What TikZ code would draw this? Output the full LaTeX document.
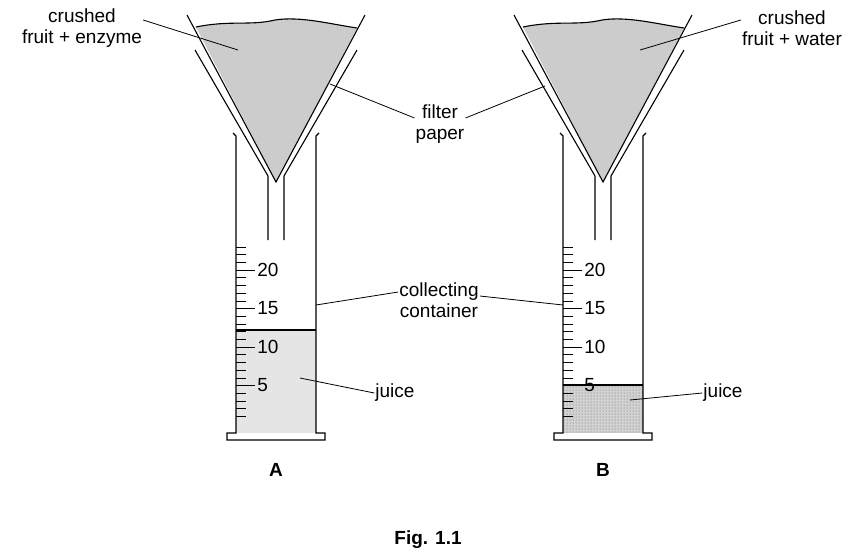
\documentclass[tikz,border=0pt]{standalone}
\usepackage{fontspec}
\setmainfont{Liberation Sans}
\usetikzlibrary{positioning, calc, patterns}

\tikzset{
  wall/.style={line width=1.1pt},
  lab/.style={font=\fontsize{19}{21}\selectfont, align=center, inner sep=1pt},
  lead/.style={line width=0.8pt},
  tick/.style={line width=0.6pt}
}

% funnel + cylinder, juice level as argument
\newcommand{\apparatus}[2]{%
  % fruit in filter paper
  \fill[gray!40] (196,27) .. controls (230,20) and (250,26) .. (275,20)
      .. controls (300,16) and (330,24) .. (357,28) -- (276,182) -- cycle;
  \draw[wall] (196,27) .. controls (230,20) and (250,26) .. (275,20)
      .. controls (300,16) and (330,24) .. (357,28);
  \draw[wall] (187,15) -- (276,182) -- (365,15);
  % funnel
  \draw[wall] (195,50) -- (268,176) -- (268,240);
  \draw[wall] (357,50) -- (284,176) -- (284,240);
  % juice
  #2
  % cylinder
  \draw[wall] (233,133) -- (236,136) -- (236,433) -- (227,433) -- (227,440)
      -- (325,440) -- (325,433) -- (316,433) -- (316,136) -- (319,133);
  \foreach \v in {1,...,23}{
    \draw[tick] (236,{424-7.7*\v}) -- ++(10,0);
  }
  \foreach \v in {5,10,15,20}{
    \draw[tick] (236,{424-7.7*\v}) -- ++(19,0)
      node[lab, right, inner sep=2pt] {\v};
  }
}

\begin{document}
\begin{tikzpicture}[x=1pt,y=-1pt]
  \useasboundingbox (0,0) rectangle (856,552);

  % A
  \begin{scope}
    \apparatus{A}{\fill[gray!20] (236,433) rectangle (316,330);
      \draw[wall] (236,330) -- (316,330);}
  \end{scope}
  % B
  \begin{scope}[xshift=327pt]
    \apparatus{B}{\fill[gray!35] (236,433) rectangle (316,385);
      \fill[pattern=dots, pattern color=gray!80!black] (236,433) rectangle (316,385);
      \draw[wall] (236,385) -- (316,385);}
  \end{scope}

  % labels
  \node[lab] (fruitA) at (82,28) {crushed\\fruit + enzyme};
  \node[lab] (fruitB) at (792,28) {crushed\\fruit + water};
  \node[lab] (paper) at (440,124) {filter\\paper};
  \node[lab] (cont) at (439,300) {collecting\\container};
  \node[lab] (juiceA) at (395,393) {juice};
  \node[lab] (juiceB) at (723,393) {juice};
  \node[lab, font=\fontsize{19}{21}\selectfont\bfseries] (nA) at (276,470) {A};
  \node[lab, font=\fontsize{19}{21}\selectfont\bfseries] (nB) at (603,470) {B};
  \node[lab, font=\fontsize{19}{21}\selectfont\bfseries] (fig) at (428,540) {Fig. 1.1};

  \coordinate (pfA) at (238,50);
  \coordinate (pfB) at (640,50);
  \coordinate (ppA) at (330,84);
  \coordinate (ppB) at (545,86);
  \coordinate (pcA) at (316,305);
  \coordinate (pcB) at (563,305);
  \coordinate (pjA) at (300,378);
  \coordinate (pjB) at (630,400);

  \draw[lead] (fruitA.east |- 0,20) -- (pfA);
  \draw[lead] (fruitB.west |- 0,20) -- (pfB);
  \draw[lead] (paper.west |- 0,118) -- (ppA);
  \draw[lead] (paper.east |- 0,118) -- (ppB);
  \draw[lead] (cont.west |- 0,292) -- (pcA);
  \draw[lead] (cont.east |- 0,296) -- (pcB);
  \draw[lead] (juiceA.west) -- (pjA);
  \draw[lead] (juiceB.west) -- (pjB);
\end{tikzpicture}
\end{document}
